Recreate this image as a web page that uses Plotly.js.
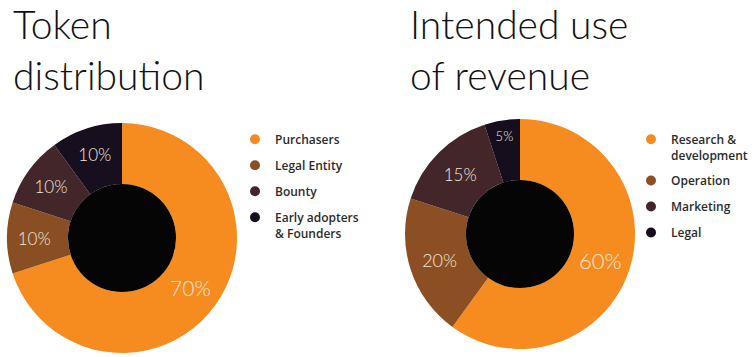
<!DOCTYPE html>
<html>
<head>
<meta charset="utf-8">
<script src="https://cdn.plot.ly/plotly-3.0.1.min.js"></script>
<style>html,body{margin:0;padding:0;background:#fff;}#chart{width:756px;height:357px;}</style>
</head>
<body>
<div id="chart"></div>
<script>
// ---- data ----
const tokenTitle = 'Token<br>distribution';
const tokenLabels = ['Purchasers', 'Legal Entity', 'Bounty', 'Early adopters<br>& Founders'];
const tokenValues = [70, 10, 10, 10];
const tokenColors = ['#F68B1F', '#8A4E23', '#42262A', '#170F1E'];

const revenueTitle = 'Intended use<br>of revenue';
const revenueLabels = ['Research &<br>development', 'Operation', 'Marketing', 'Legal'];
const revenueValues = [60, 20, 15, 5];
const revenueColors = ['#F68B1F', '#8C4F23', '#432629', '#160E1D'];

// ---- layout helpers ----
const W = 756, H = 357;
const HOLE = 0.47;
function dom(x0, x1, yTop, yBot) {
  return { x: [x0 / W, x1 / W], y: [1 - yBot / H, 1 - yTop / H] };
}
function holeDom(d) {
  const cx = (d.x[0] + d.x[1]) / 2, cy = (d.y[0] + d.y[1]) / 2;
  const hx = (d.x[1] - d.x[0]) / 2 * HOLE, hy = (d.y[1] - d.y[0]) / 2 * HOLE;
  return { x: [cx - hx, cx + hx], y: [cy - hy, cy + hy] };
}
const leftDom = dom(7, 237, 123, 353);
const rightDom = dom(405, 635, 119, 349);

const labelFont = { family: 'Lato, sans-serif', weight: 300, color: '#F3E7D8' };

function donut(values, labels, colors, d, sizes) {
  return {
    type: 'pie', values: values, labels: labels, sort: false, direction: 'clockwise', rotation: 0,
    hole: HOLE, domain: d, marker: { colors: colors, line: { width: 0 } },
    textinfo: 'percent', texttemplate: '%{value}%', textposition: 'inside',
    insidetextorientation: 'horizontal',
    textfont: Object.assign({ size: sizes }, labelFont),
    showlegend: false, hoverinfo: 'label+percent'
  };
}
function holeTrace(d) {
  return {
    type: 'pie', values: [1], labels: ['hole'], domain: holeDom(d), marker: { colors: ['#050505'], line: { width: 0 } },
    textinfo: 'none', showlegend: false, hoverinfo: 'skip', sort: false
  };
}
function legendTraces(labels, colors, legendId) {
  return labels.map((l, i) => ({
    type: 'scatter', mode: 'markers', x: [null], y: [null], name: l,
    legend: legendId, legendgroup: legendId + i,
    marker: { color: colors[i], size: 10, symbol: 'circle' }, hoverinfo: 'skip'
  }));
}

const data = [
  donut(tokenValues, tokenLabels, tokenColors, leftDom, [21, 17, 17, 17]),
  holeTrace(leftDom),
  donut(revenueValues, revenueLabels, revenueColors, rightDom, [22, 18, 17, 13]),
  holeTrace(rightDom)
].concat(legendTraces(tokenLabels, tokenColors, 'legend'))
 .concat(legendTraces(revenueLabels, revenueColors, 'legend2'));

const legendFont = { family: '"Open Sans", sans-serif', size: 12, weight: 600, color: '#2B2B2B' };
const titleFont = { family: 'Lato, sans-serif', size: 39, weight: 300, color: '#111111' };

const layout = {
  width: W, height: H,
  margin: { l: 0, r: 0, t: 0, b: 0 },
  paper_bgcolor: '#ffffff', plot_bgcolor: '#ffffff',
  xaxis: { visible: false, range: [0, 1] }, yaxis: { visible: false, range: [0, 1] },
  legend: {
    x: 235 / W, y: 1 - 125 / H, xanchor: 'left', yanchor: 'top', bgcolor: 'rgba(0,0,0,0)',
    font: legendFont, traceorder: 'grouped', tracegroupgap: 7, valign: 'top', itemwidth: 30
  },
  legend2: {
    x: 631 / W, y: 1 - 125 / H, xanchor: 'left', yanchor: 'top', bgcolor: 'rgba(0,0,0,0)',
    font: legendFont, traceorder: 'grouped', tracegroupgap: 7, valign: 'top', itemwidth: 30
  },
  annotations: [
    { text: tokenTitle, xref: 'paper', yref: 'paper', x: 12 / W, y: 1, xanchor: 'left', yanchor: 'top',
      align: 'left', showarrow: false, font: titleFont, borderpad: 0 },
    { text: revenueTitle, xref: 'paper', yref: 'paper', x: 409 / W, y: 1, xanchor: 'left', yanchor: 'top',
      align: 'left', showarrow: false, font: titleFont, borderpad: 0 }
  ],
  showlegend: true
};

Plotly.newPlot('chart', data, layout, { displayModeBar: false, staticPlot: true });
</script>
</body>
</html>
